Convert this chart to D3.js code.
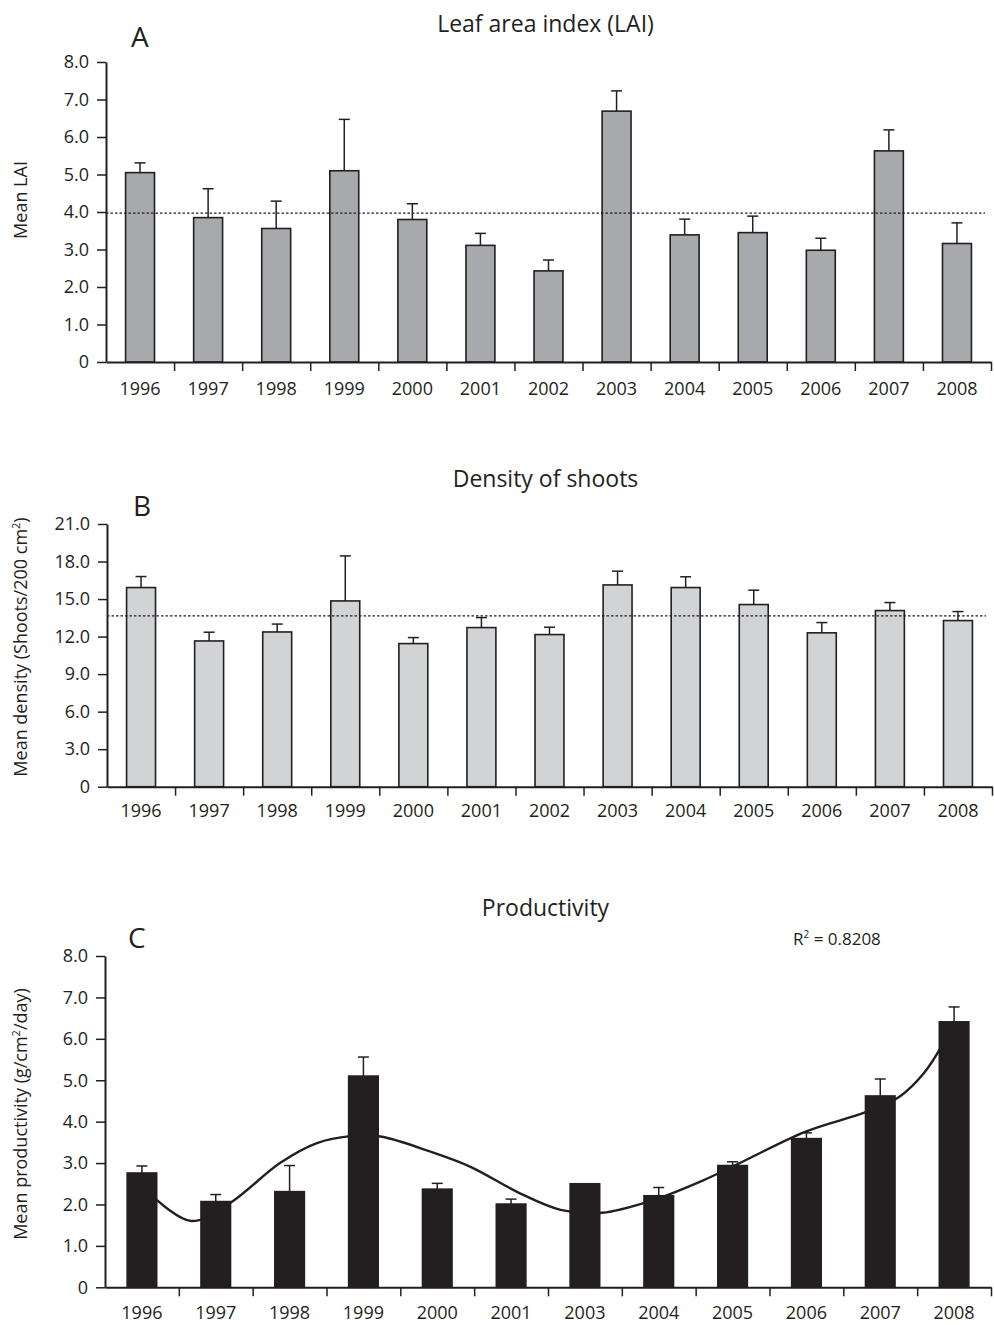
<!DOCTYPE html>
<html>
<head>
<meta charset="utf-8">
<script src="https://cdn.jsdelivr.net/npm/d3@7"></script>
<style>
  body { margin: 0; background: #fff; }
  text { font-family: "Open Sans", "Noto Sans", sans-serif; fill: #231f20; }
</style>
</head>
<body>
<svg id="chart" width="994" height="1325"></svg>
<script>
// ---- Panel A: leaf area index ----
const laiYears = ["1996","1997","1998","1999","2000","2001","2002","2003","2004","2005","2006","2007","2008"];
const laiMean  = [5.05, 3.85, 3.56, 5.10, 3.80, 3.11, 2.43, 6.69, 3.39, 3.45, 2.98, 5.63, 3.16];
const laiSE    = [0.26, 0.77, 0.73, 1.37, 0.42, 0.32, 0.29, 0.54, 0.42, 0.44, 0.32, 0.56, 0.55];
const laiOverall = 3.97;
const laiTicks = [0, 1, 2, 3, 4, 5, 6, 7, 8];

// ---- Panel B: shoot density ----
const densYears = ["1996","1997","1998","1999","2000","2001","2002","2003","2004","2005","2006","2007","2008"];
const densMean  = [15.92, 11.65, 12.37, 14.85, 11.44, 12.72, 12.16, 16.13, 15.92, 14.56, 12.30, 14.08, 13.28];
const densSE    = [0.88, 0.70, 0.63, 3.60, 0.48, 0.80, 0.59, 1.10, 0.86, 1.15, 0.82, 0.64, 0.72];
const densOverall = 13.65;
const densTicks = [0, 3, 6, 9, 12, 15, 18, 21];

// ---- Panel C: productivity ----
const prodYears = ["1996","1997","1998","1999","2000","2001","2003","2004","2005","2006","2007","2008"];
const prodMean  = [2.76, 2.07, 2.31, 5.10, 2.37, 2.01, 2.50, 2.21, 2.94, 3.59, 4.62, 6.41];
const prodSE    = [0.17, 0.17, 0.63, 0.46, 0.14, 0.12, 0.00, 0.20, 0.09, 0.14, 0.41, 0.36];
const prodTicks = [0, 1, 2, 3, 4, 5, 6, 7, 8];
// fitted trend (position in category units, 0 = first year centre)
const trendPos = [0.20, 0.67, 1.19, 1.87, 2.37, 2.82, 3.23, 3.90, 4.45, 5.12, 5.67, 6.23, 6.93, 7.61, 8.04, 8.99, 9.82, 10.25, 10.59, 10.84, 10.99];
const trendVal = [2.11, 1.60, 2.03, 3.00, 3.48, 3.65, 3.64, 3.28, 2.91, 2.27, 1.87, 1.80, 2.11, 2.59, 2.95, 3.76, 4.24, 4.59, 5.17, 5.85, 6.38];
const r2Label = "0.8208";

const ink = "#231f20";
const svg = d3.select("#chart");

function fmtTick(d) { return d === 0 ? "0" : d3.format(".1f")(d); }

function drawPanel(o) {
  const g = svg.append("g");
  const n = o.years.length;
  const x = d3.scaleBand().domain(o.years).range([o.x0, o.x1]).paddingInner(o.pad).paddingOuter(o.pad / 2);
  const xi = d3.scaleLinear().domain([0, n]).range([o.x0, o.x1]);
  const y = d3.scaleLinear().domain([0, o.yMax]).range([o.yBottom, o.yTop]);

  // bars
  g.selectAll("rect.bar").data(o.mean).join("rect")
    .attr("x", (d, i) => x(o.years[i]))
    .attr("y", d => y(d))
    .attr("width", x.bandwidth())
    .attr("height", d => y(0) - y(d))
    .attr("fill", o.fill)
    .attr("stroke", ink)
    .attr("stroke-width", 1.6);

  // upper error bars
  const capW = 11;
  o.mean.forEach((m, i) => {
    if (!o.se[i]) return;
    const cx = x(o.years[i]) + x.bandwidth() / 2;
    g.append("line").attr("x1", cx).attr("x2", cx)
      .attr("y1", y(m)).attr("y2", y(m + o.se[i]))
      .attr("stroke", ink).attr("stroke-width", 1.5);
    g.append("line").attr("x1", cx - capW / 2).attr("x2", cx + capW / 2)
      .attr("y1", y(m + o.se[i])).attr("y2", y(m + o.se[i]))
      .attr("stroke", ink).attr("stroke-width", 1.5);
  });

  // overall mean line
  if (o.overall != null) {
    g.append("line").attr("x1", o.x0).attr("x2", o.x1 - 6)
      .attr("y1", y(o.overall)).attr("y2", y(o.overall))
      .attr("stroke", ink).attr("stroke-width", 1.2)
      .attr("stroke-dasharray", "2.5,2");
  }

  // x axis: ticks at category boundaries
  const xAxis = g.append("g").attr("transform", `translate(0,${o.yBottom})`)
    .call(d3.axisBottom(xi).tickValues(d3.range(1, n + 1)).tickFormat("").tickSize(9).tickSizeOuter(0));
  xAxis.select(".domain").attr("stroke", ink).attr("stroke-width", 2);
  xAxis.selectAll(".tick line").attr("stroke", ink).attr("stroke-width", 1.5);

  g.selectAll("text.xl").data(o.years).join("text")
    .attr("x", d => x(d) + x.bandwidth() / 2)
    .attr("y", o.xLabelY)
    .attr("text-anchor", "middle")
    .attr("font-size", 18)
    .text(d => d);

  // y axis
  const yAxis = g.append("g").attr("transform", `translate(${o.x0},0)`)
    .call(d3.axisLeft(y).tickValues(o.ticks).tickFormat(fmtTick).tickSize(9).tickSizeOuter(0).tickPadding(8));
  yAxis.select(".domain").attr("stroke", ink).attr("stroke-width", 2);
  yAxis.selectAll(".tick line").attr("stroke", ink).attr("stroke-width", 1.5);
  yAxis.selectAll(".tick text").attr("font-size", 18).attr("font-family", "'Open Sans', sans-serif").attr("fill", ink);

  // titles
  g.append("text").attr("x", 545.5).attr("y", o.titleY).attr("text-anchor", "middle")
    .attr("font-size", 23).text(o.title);
  g.append("text").attr("x", o.letterX).attr("y", o.letterY)
    .attr("font-size", 28).text(o.letter);

  const yt = g.append("text")
    .attr("transform", `translate(26.5,${o.yTitleY}) rotate(-90)`)
    .attr("text-anchor", "middle").attr("font-size", 18);
  o.yTitle.forEach(part => {
    const t = yt.append("tspan").text(part.t);
    if (part.sup) t.attr("font-size", 11).attr("dy", -7);
    if (part.after) t.attr("dy", 7);
  });

  return { x, xi, y, g };
}

drawPanel({
  years: laiYears, mean: laiMean, se: laiSE, overall: laiOverall, ticks: laiTicks, yMax: 8,
  x0: 106, x1: 991, yTop: 62, yBottom: 362, pad: 0.575, fill: "#a7a9ac",
  xLabelY: 395, title: "Leaf area index (LAI)", titleY: 32,
  letter: "A", letterX: 131, letterY: 47,
  yTitle: [{ t: "Mean LAI" }], yTitleY: 200
});

drawPanel({
  years: densYears, mean: densMean, se: densSE, overall: densOverall, ticks: densTicks, yMax: 21,
  x0: 107, x1: 992, yTop: 524, yBottom: 786.7, pad: 0.575, fill: "#d1d3d4",
  xLabelY: 817, title: "Density of shoots", titleY: 487,
  letter: "B", letterX: 133, letterY: 516,
  yTitle: [{ t: "Mean density (Shoots/200 cm" }, { t: "2", sup: true }, { t: ")", after: true }], yTitleY: 647
});

const pc = drawPanel({
  years: prodYears, mean: prodMean, se: prodSE, overall: null, ticks: prodTicks, yMax: 8,
  x0: 105, x1: 991, yTop: 956, yBottom: 1287.3, pad: 0.6, fill: ink,
  xLabelY: 1319, title: "Productivity", titleY: 916,
  letter: "C", letterX: 128, letterY: 948,
  yTitle: [{ t: "Mean productivity (g/cm" }, { t: "2", sup: true }, { t: "/day)", after: true }], yTitleY: 1114
});

// trend curve through the productivity bars
const trend = trendPos.map((p, i) => [p, trendVal[i]]);
pc.g.append("path")
  .datum(trend)
  .attr("fill", "none")
  .attr("stroke", ink)
  .attr("stroke-width", 2.4)
  .attr("d", d3.line()
    .x(d => pc.xi(d[0] + 0.5))
    .y(d => pc.y(d[1]))
    .curve(d3.curveCatmullRom.alpha(0.5)));

const r2 = pc.g.append("text").attr("x", 793).attr("y", 945).attr("font-size", 17);
r2.append("tspan").text("R");
r2.append("tspan").attr("font-size", 10).attr("dy", -7).text("2");
r2.append("tspan").attr("dy", 7).text(" = " + r2Label);
</script>
</body>
</html>
